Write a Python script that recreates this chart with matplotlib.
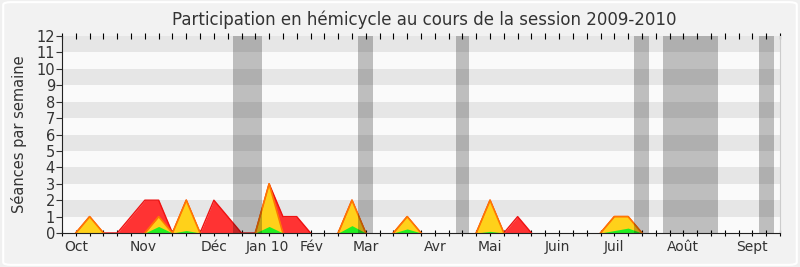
import numpy as np
import matplotlib.pyplot as plt
import matplotlib.transforms as mtransforms
from matplotlib.patches import FancyBboxPatch

# weekly values, session 2009-2010 (week 0 = start of October)
weeks = list(range(53))
presences = [0, 0, 1, 0, 0, 1, 2, 2, 0, 2, 0, 2, 1, 0, 0, 3, 1, 1, 0, 0,
             0, 2, 0, 0, 0, 1, 0, 0, 0, 0, 0, 2, 0, 1, 0, 0, 0, 0, 0, 0,
             1, 1, 0, 0, 0, 0, 0, 0, 0, 0, 0, 0, 0]
interventions = [0, 0, 1, 0, 0, 0, 0, 1, 0, 2, 0, 0, 0, 0, 0, 3, 0, 0, 0, 0,
                 0, 2, 0, 0, 0, 1, 0, 0, 0, 0, 0, 2, 0, 0, 0, 0, 0, 0, 0, 0,
                 1, 1, 0, 0, 0, 0, 0, 0, 0, 0, 0, 0, 0]
questions = [0, 0, 0, 0, 0, 0, 0, 0.4, 0, 0.15, 0, 0, 0, 0, 0, 0.4, 0, 0, 0, 0,
             0, 0.45, 0, 0, 0, 0.25, 0, 0, 0, 0, 0, 0.1, 0, 0, 0, 0, 0, 0, 0, 0,
             0.15, 0.3, 0, 0, 0, 0, 0, 0, 0, 0, 0, 0, 0]

# parliamentary breaks (start week, end week)
vacances = [(12.4, 14.5), (21.45, 22.5), (28.5, 29.5), (41.45, 42.5),
            (43.5, 47.5), (50.5, 51.6)]

mois = ['Oct', 'Nov', 'Déc', 'Jan 10', 'Fév', 'Mar', 'Avr', 'Mai',
        'Juin', 'Juil', 'Août', 'Sept']
mois_pos = [1, 5.9, 11, 14.9, 18.1, 22, 27, 31, 35.9, 40, 45, 50]


def outline(values):
    # hide the outline where the series sits flat on zero
    v = np.array(values, dtype=float)
    keep = np.zeros(len(v), dtype=bool)
    for i in range(len(v)):
        lo, hi = max(i - 1, 0), min(i + 2, len(v))
        keep[i] = np.any(v[lo:hi] > 0)
    return np.ma.masked_where(~keep, v)


fig = plt.figure(figsize=(8, 2.67), dpi=100)
fig.patch.set_facecolor('#f0f0f0')
fig.patches.append(FancyBboxPatch((0.004, 0.008), 0.992, 0.984,
                                  boxstyle='round,pad=0,rounding_size=0.01',
                                  transform=fig.transFigure, facecolor='#f2f2f2',
                                  edgecolor='white', linewidth=1.5, zorder=-1))

ax = fig.add_axes([0.0775, 0.1273, 0.8975, 0.7377])
ax.set_facecolor('#fafafa')

for y in range(1, 12, 2):
    ax.axhspan(y, y + 1, color='#e6e6e6', lw=0, zorder=0)

ax.fill_between(weeks, presences, color='#ff3333', lw=0, zorder=2)
ax.plot(weeks, outline(presences), color='#ee1111', lw=1, zorder=2)
ax.fill_between(weeks, interventions, color='#ffd11a', lw=0, zorder=3)
ax.plot(weeks, outline(interventions), color='#ff7700', lw=1.2, zorder=3)
ax.fill_between(weeks, questions, color='#22ee22', lw=0, zorder=4)

for a, b in vacances:
    ax.axvspan(a, b, color='black', alpha=0.24, lw=0, zorder=5)

ax.set_xlim(0, 52)
ax.set_ylim(0, 12)
ax.set_yticks(range(13))
ax.set_xticks(weeks)
ax.set_xticklabels([])
ax.tick_params(axis='x', which='major', length=4, width=0.8, top=True, direction='inout')
ax.tick_params(axis='y', length=4, width=0.8, labelsize=10.5, pad=1, colors='#333333')

trans = mtransforms.blended_transform_factory(ax.transData, ax.transAxes)
for label, pos in zip(mois, mois_pos):
    ax.text(pos, -0.035, label, transform=trans, ha='center', va='top',
            fontsize=10, color='#333333')

ax.spines['top'].set_visible(False)
ax.spines['right'].set_color('#cccccc')
ax.spines['left'].set_color('#222222')
ax.spines['bottom'].set_color('#222222')
ax.spines['bottom'].set_zorder(6)

ax.set_ylabel('Séances par semaine', fontsize=10.5, color='#333333', labelpad=7)
fig.text(0.53, 0.925, 'Participation en hémicycle au cours de la session 2009-2010',
         ha='center', va='center', fontsize=12, color='#333333')

plt.savefig('out.png', dpi=100, facecolor=fig.get_facecolor())
